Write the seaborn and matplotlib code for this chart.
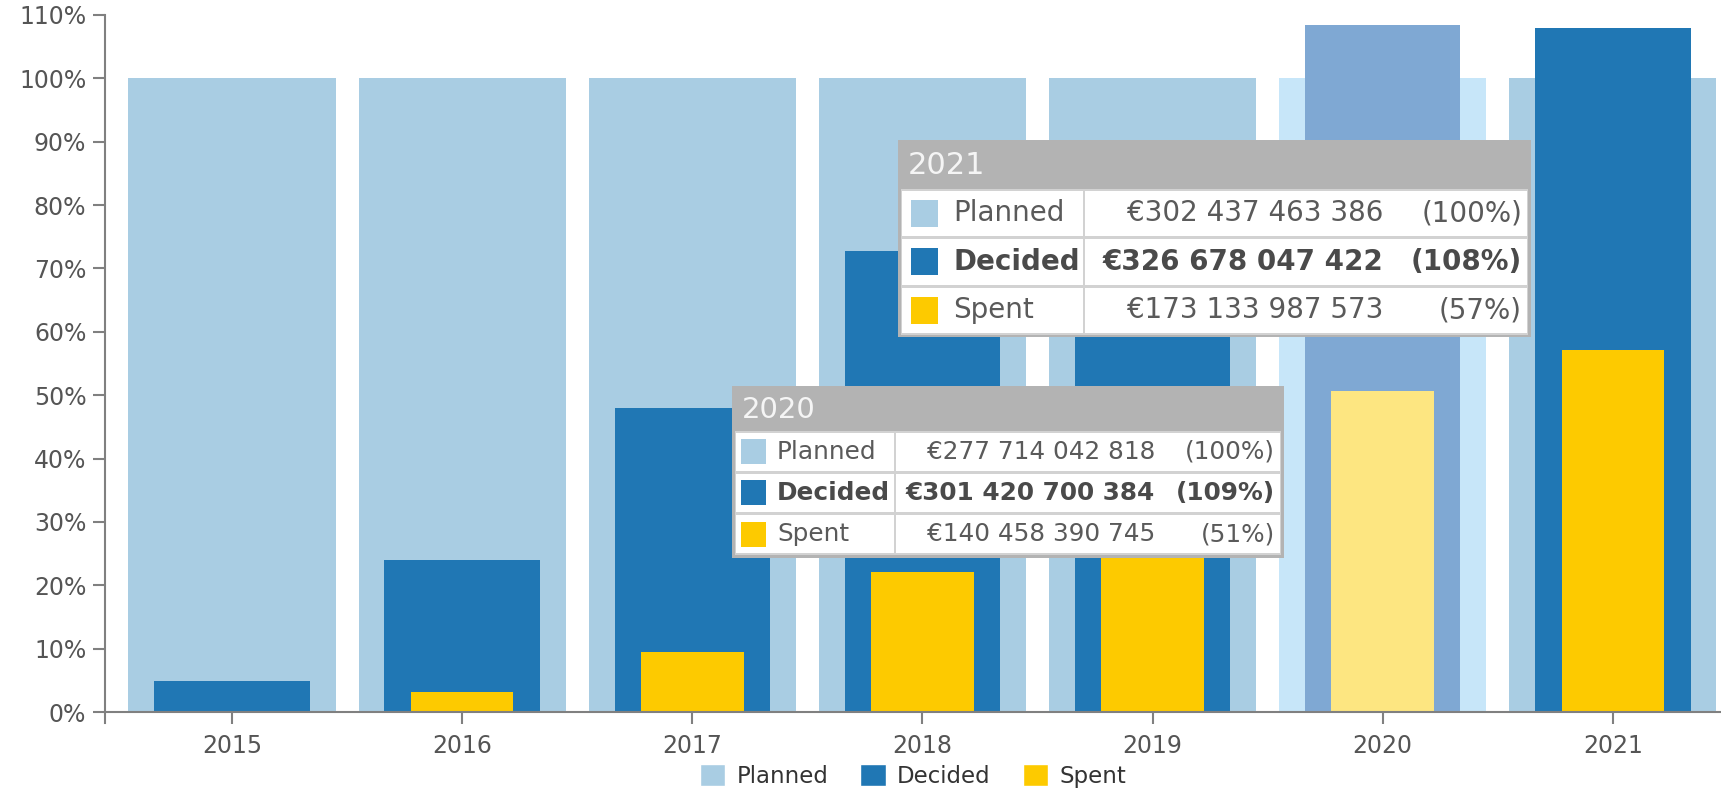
import numpy as np
import pandas as pd
import matplotlib
matplotlib.use("Agg")
import matplotlib.pyplot as plt
import seaborn as sns
from matplotlib.patches import Rectangle, Patch

# values (% of planned budget)
years = ["2015", "2016", "2017", "2018", "2019", "2020", "2021"]
planned_pct = [100, 100, 100, 100, 100, 100, 100]
decided_pct = [4.9, 24.0, 47.9, 72.8, 85.0, 108.5, 108.0]
spent_pct = [0.0, 3.1, 9.5, 22.1, 36.0, 50.6, 57.2]
highlight_year = "2020"

# tooltip amounts (EUR)
tip_years = ["2020", "2021"]
tip_planned = [277714042818, 302437463386]
tip_decided = [301420700384, 326678047422]
tip_spent = [140458390745, 173133987573]

base_col = {"Planned": "#a9cde3", "Decided": "#2077b4", "Spent": "#fdca00"}
light_col = {"Planned": "#c7e6f9", "Decided": "#7fa8d3", "Spent": "#fde681"}

df = pd.DataFrame({"year": years, "Planned": planned_pct,
                   "Decided": decided_pct, "Spent": spent_pct})

sns.set_style("ticks")
W, H = 1721, 789
fig = plt.figure(figsize=(W / 100, H / 100), dpi=100)
ax = fig.add_axes([105 / W, 1 - 712 / H, 1 - 105 / W, (712 - 15) / H])

for series, width in [("Planned", 0.9), ("Decided", 0.675), ("Spent", 0.445)]:
    cols = [light_col[series] if y == highlight_year else base_col[series] for y in years]
    sns.barplot(data=df, x="year", y=series, hue="year", palette=cols, width=width,
                saturation=1, linewidth=0, errorbar=None, legend=False, ax=ax)

ax.set_xlim(-0.552, 6.47)
ax.set_ylim(0, 110)
ax.set_yticks(range(0, 111, 10))
ax.yaxis.set_major_formatter(lambda v, p: f"{v:.0f}%")
ax.set_xlabel("")
ax.set_ylabel("")
for s in ["top", "right"]:
    ax.spines[s].set_visible(False)
for s in ["left", "bottom"]:
    ax.spines[s].set_color("#808080")
    ax.spines[s].set_linewidth(1.5)
ax.spines["left"].set_bounds(-1.8, 110)
ax.tick_params(length=8.5, width=1.5, color="#808080", labelsize=17,
               labelcolor="#555555", pad=5)
ax.tick_params(axis="x", pad=7)

handles = [Patch(facecolor=base_col[k], label=k) for k in ["Planned", "Decided", "Spent"]]
fig.legend(handles=handles, loc="center", bbox_to_anchor=(913 / W, 1 - 776 / H),
           ncol=3, frameon=False, fontsize=16.5, handlelength=1.1, handleheight=1.1,
           handletextpad=0.5, columnspacing=1.4, labelcolor="#333333")


def fig_rect(x0, y0, x1, y1, color, z):
    fig.add_artist(Rectangle((x0 / W, 1 - y1 / H), (x1 - x0) / W, (y1 - y0) / H,
                             transform=fig.transFigure, facecolor=color,
                             edgecolor="none", zorder=z))


def fig_text(x, y, s, **kw):
    fig.text(x / W, 1 - y / H, s, va="center", zorder=30, **kw)


def draw_tip(i, left, top, right, head_h, row_h, split, sw_off, sw, text_x, amt_x, fs, fs_head):
    ref = tip_planned[i]
    rows = [("Planned", tip_planned[i], False),
            ("Decided", tip_decided[i], True),
            ("Spent", tip_spent[i], False)]
    bottom = top + head_h + 3 * row_h + 3
    fig_rect(left, top, right, bottom, "#b3b3b3", 20)
    fig_text(left + 10, top + head_h / 2 + 1, tip_years[i], color="#f5f5f5",
             fontsize=fs_head, ha="left")
    for r, (name, val, bold) in enumerate(rows):
        y0 = top + head_h + r * row_h
        fig_rect(left + 3, y0, right - 3, y0 + row_h, "#d2d2d2", 21)
        fig_rect(left + 4, y0 + 1.5, split - 1, y0 + row_h - 1.5, "white", 22)
        fig_rect(split + 1, y0 + 1.5, right - 4, y0 + row_h - 1.5, "white", 22)
        yc = y0 + row_h / 2
        fig_rect(left + sw_off, yc - sw / 2, left + sw_off + sw, yc + sw / 2, base_col[name], 23)
        kw = dict(fontsize=fs, fontweight="bold" if bold else "normal",
                  color="#4a4a4a" if bold else "#5a5a5a")
        fig_text(text_x, yc, name, ha="left", **kw)
        fig_text(amt_x, yc, "€" + f"{val:,}".replace(",", " "), ha="right", **kw)
        fig_text(right - 9, yc, f"({val / ref:.0%})", ha="right", **kw)


draw_tip(1, 898, 140, 1531, 49, 48.5, 1084, 13, 27, 953, 1383, 20, 22)
draw_tip(0, 732, 386, 1284, 45, 41.3, 895, 9, 25, 777, 1155, 17.8, 21)

fig.savefig("out.png", dpi=100)
